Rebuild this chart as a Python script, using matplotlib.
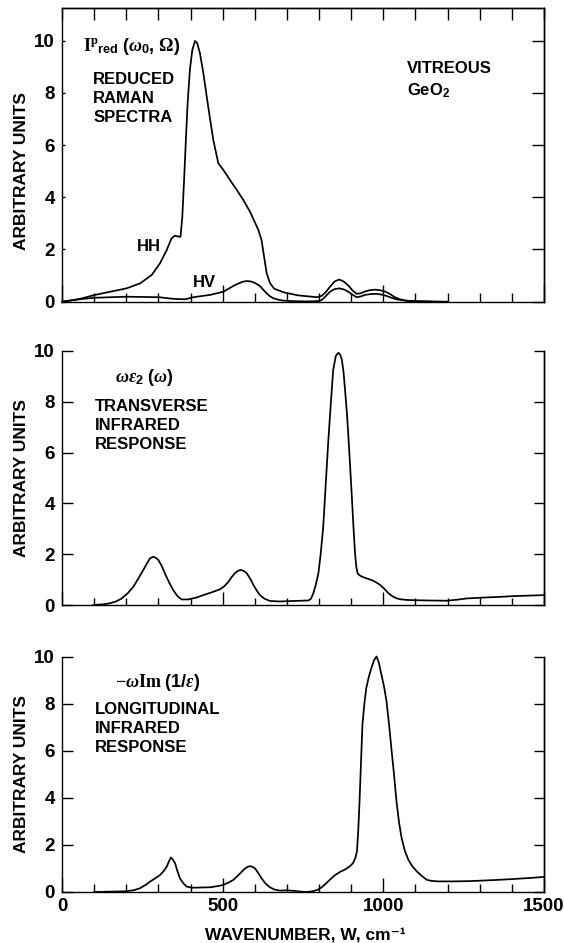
import matplotlib
matplotlib.use("Agg")
import matplotlib.pyplot as plt
from matplotlib.ticker import MultipleLocator, FixedLocator

plt.rcParams['font.family'] = ['Liberation Sans', 'DejaVu Sans']
plt.rcParams['font.weight'] = 'bold'
plt.rcParams['mathtext.fontset'] = 'custom'
plt.rcParams['mathtext.rm'] = 'Liberation Serif:bold'
plt.rcParams['mathtext.it'] = 'Liberation Serif:italic'
plt.rcParams['mathtext.bf'] = 'Liberation Sans:bold'
plt.rcParams['mathtext.sf'] = 'Liberation Sans:bold'

# ---------------- data ----------------
# Top panel: reduced Raman spectra, HH and HV
hh_x = [0, 30, 60, 103, 150, 201, 243, 279, 305, 326, 341, 352, 362, 369, 374.5, 380, 386, 391,
        398, 405.6, 414, 421, 429.5, 440, 455, 471, 486.5, 502, 523, 544, 564, 585, 600, 611,
        621, 629, 637, 647, 660, 689, 735, 770, 793, 808, 820, 834, 848, 863, 877, 891, 905,
        917, 930, 943, 958, 974, 990, 1005, 1020, 1036, 1050, 1062, 1080, 1104, 1150, 1200]
hh_y = [0.0, 0.05, 0.12, 0.26, 0.38, 0.51, 0.70, 1.02, 1.47, 1.98, 2.43, 2.53, 2.49, 2.49, 3.26,
        4.66, 6.32, 7.6, 8.88, 9.64, 9.99, 9.9, 9.51, 8.75, 7.47, 6.19, 5.3, 5.05, 4.66, 4.28,
        3.9, 3.45, 3.05, 2.75, 2.36, 1.72, 1.09, 0.72, 0.5, 0.36, 0.24, 0.2, 0.17, 0.22, 0.35,
        0.57, 0.77, 0.85, 0.77, 0.62, 0.42, 0.3, 0.32, 0.39, 0.44, 0.46, 0.44, 0.39, 0.3, 0.17,
        0.1, 0.06, 0.03, 0.02, 0.01, 0.0]

hv_x = [0, 30, 60, 103, 150, 201, 250, 302, 346, 383, 409, 461, 502, 533, 550, 564, 577, 590,
        603, 616, 627, 637, 648, 658, 675, 689, 720, 760, 793, 808, 820, 834, 848, 863, 877,
        891, 905, 917, 930, 943, 960, 979, 995, 1010, 1025, 1041, 1072, 1100, 1150]
hv_y = [0.0, 0.05, 0.1, 0.15, 0.17, 0.19, 0.18, 0.17, 0.11, 0.09, 0.17, 0.26, 0.38, 0.6, 0.7,
        0.77, 0.79, 0.77, 0.7, 0.6, 0.45, 0.32, 0.2, 0.13, 0.07, 0.04, 0.02, 0.01, 0.02, 0.06,
        0.2, 0.38, 0.48, 0.51, 0.47, 0.38, 0.26, 0.17, 0.2, 0.26, 0.29, 0.3, 0.27, 0.22, 0.15,
        0.09, 0.03, 0.01, 0.0]

# Middle panel: transverse infrared response
tr_x = [97, 130, 149, 168, 186, 205, 222, 238, 253, 265, 274, 284, 292, 300, 310, 320, 333, 346,
        359, 372, 393, 420, 440, 466, 492, 506, 518, 528, 538, 548, 557, 566, 575, 586, 596,
        606, 616, 630, 647, 678, 720, 767, 775, 782, 790, 798, 805, 813, 821, 829, 837, 844,
        852, 860, 866, 871, 876, 881, 887, 892, 897, 902, 907, 912, 916, 920, 926, 933, 948,
        964, 977, 990, 1003, 1016, 1029, 1042, 1057, 1073, 1100, 1135, 1197, 1230, 1260, 1290,
        1322, 1360, 1404, 1450, 1500]
tr_y = [0.0, 0.03, 0.07, 0.14, 0.26, 0.47, 0.72, 1.05, 1.38, 1.65, 1.84, 1.9, 1.86, 1.77, 1.55,
        1.25, 0.9, 0.59, 0.36, 0.22, 0.22, 0.3, 0.39, 0.5, 0.62, 0.75, 0.92, 1.1, 1.25, 1.35,
        1.38, 1.34, 1.25, 1.03, 0.79, 0.57, 0.39, 0.25, 0.16, 0.14, 0.16, 0.18, 0.25, 0.46, 0.8,
        1.25, 2.0, 3.08, 4.8, 6.5, 8.0, 9.25, 9.8, 9.93, 9.85, 9.65, 9.2, 8.46, 7.5, 6.5, 5.4,
        4.27, 3.1, 2.03, 1.5, 1.25, 1.17, 1.12, 1.05, 0.98, 0.9, 0.79, 0.64, 0.46, 0.34, 0.26,
        0.22, 0.2, 0.19, 0.18, 0.17, 0.21, 0.26, 0.28, 0.3, 0.32, 0.35, 0.37, 0.39]

# Bottom panel: longitudinal infrared response
lo_x = [100, 201, 225, 243, 260, 274, 290, 305, 316, 326, 333, 339, 345, 352, 359, 367, 377, 388,
        404, 430, 461, 485, 502, 518, 533, 548, 564, 575, 585, 593, 601, 611, 621, 634, 647, 662,
        678, 700, 720, 740, 761, 780, 797, 810, 823, 836, 849, 865, 880, 895, 906, 913, 918, 922,
        926, 930, 935, 941, 947, 955, 963, 971, 979, 986, 994, 1002, 1010, 1018, 1026, 1034,
        1041, 1049, 1057, 1067, 1078, 1090, 1104, 1120, 1135, 1150, 1171, 1218, 1260, 1301,
        1350, 1404, 1450, 1500]
lo_y = [0.0, 0.03, 0.08, 0.16, 0.3, 0.44, 0.58, 0.72, 0.88, 1.08, 1.3, 1.47, 1.38, 1.22, 0.9,
        0.58, 0.38, 0.23, 0.18, 0.19, 0.2, 0.25, 0.3, 0.4, 0.51, 0.7, 0.93, 1.05, 1.1, 1.07, 1.0,
        0.8, 0.58, 0.35, 0.2, 0.1, 0.06, 0.07, 0.05, 0.02, 0.0, 0.03, 0.1, 0.22, 0.38, 0.55,
        0.71, 0.85, 0.95, 1.08, 1.23, 1.45, 1.73, 2.6, 3.85, 5.3, 7.1, 8.0, 8.67, 9.15, 9.52,
        9.85, 10.01, 9.75, 9.24, 8.75, 8.1, 7.1, 5.98, 4.9, 3.85, 2.95, 2.29, 1.75, 1.37, 1.1,
        0.88, 0.68, 0.52, 0.47, 0.45, 0.45, 0.46, 0.48, 0.51, 0.55, 0.59, 0.64]

x_major = [0, 500, 1000, 1500]
y_ticks = [0, 2, 4, 6, 8, 10]

# ---------------- figure ----------------
fig = plt.figure(figsize=(5.64, 9.43), dpi=100)
L, W = 0.1099, 0.8546
ax1 = fig.add_axes([L, 0.6801, W, 0.3111])
ax2 = fig.add_axes([L, 0.3584, W, 0.2694])
ax3 = fig.add_axes([L, 0.0541, W, 0.2495])

LW = 1.25
ax1.plot(hh_x, hh_y, color='black', lw=LW, clip_on=False)
ax1.plot(hv_x, hv_y, color='black', lw=LW, clip_on=False)
ax2.plot(tr_x, tr_y, color='black', lw=LW, clip_on=False)
ax3.plot(lo_x, lo_y, color='black', lw=LW, clip_on=False)

specs = [
    # ax, ytop, xmaj_len, xmin_len, left_len, right_len, show_top
    (ax1, 11.24, 12.0, 6.5, 2.5, 8.6, True),
    (ax2, 10.0, 9.4, 5.0, 7.7, 7.2, False),
    (ax3, 10.0, 10.0, 5.8, 8.0, 7.2, False),
]
for ax, ytop, xmaj, xmin, llen, rlen, show_top in specs:
    ax.set_xlim(0, 1500)
    ax.set_ylim(0, ytop)
    for s in ax.spines.values():
        s.set_linewidth(1.0)
    ax.spines['top'].set_visible(show_top)
    ax.xaxis.set_major_locator(FixedLocator(x_major))
    ax.xaxis.set_minor_locator(MultipleLocator(100))
    ax.set_yticks(y_ticks)
    ax.tick_params(axis='x', which='major', direction='in', length=xmaj, width=1.0,
                   top=False, labelbottom=False, labelsize=13.5, pad=4)
    ax.tick_params(axis='x', which='minor', direction='in', length=xmin, width=1.0, top=False)
    ax.tick_params(axis='y', which='major', direction='in', length=llen, width=1.0,
                   right=False, labelsize=13.5, pad=5)
    sec = ax.secondary_yaxis('right')
    sec.set_yticks(y_ticks)
    sec.tick_params(direction='in', length=rlen, width=1.0, labelright=False)
    sec.spines['right'].set_linewidth(1.0)
    if show_top:
        sect = ax.secondary_xaxis('top')
        sect.set_xticks(list(range(0, 1501, 100)))
        sect.tick_params(direction='in', length=8.6, width=1.0, labeltop=False)
        sect.spines['top'].set_linewidth(1.0)
    ax.text(-0.0836, 5, 'ARBITRARY UNITS', transform=ax.get_yaxis_transform(),
            rotation=90, ha='center', va='center', fontsize=12.5, fontweight='bold')

ax3.tick_params(axis='x', which='major', labelbottom=True)
fig.text(0.542, 0.0085, 'WAVENUMBER, W, cm\u207b\u00b9', ha='center', va='center',
         fontsize=12.5, fontweight='bold')

TS = 12
# top panel annotations
ax1.text(66, 9.6, r'$\mathrm{I}^{\mathrm{p}}{}_{\mathbf{red}}\ \mathbf{(}\omega_{\mathbf{0}}\mathbf{,}\ \mathit{\Omega}\mathbf{)}$',
         ha='left', va='baseline', fontsize=13)
for txt, yy in [('REDUCED', 8.53), ('RAMAN', 7.79), ('SPECTRA', 7.05)]:
    ax1.text(97.5, yy, txt, ha='left', va='center', fontsize=TS, fontweight='bold')
ax1.text(233, 2.13, 'HH', ha='left', va='center', fontsize=TS, fontweight='bold')
ax1.text(408, 0.74, 'HV', ha='left', va='center', fontsize=TS, fontweight='bold')
ax1.text(1073, 8.92, 'VITREOUS', ha='left', va='center', fontsize=TS, fontweight='bold')
ax1.text(1073, 8.07, r'GeO$_{\mathbf{2}}$', ha='left', va='center', fontsize=TS, fontweight='bold')

# middle panel annotations
ax2.text(165, 8.96, r'$\omega\epsilon_{\mathbf{2}}\ \mathbf{(}\omega\mathbf{)}$',
         ha='left', va='center', fontsize=13)
for txt, yy in [('TRANSVERSE', 7.81), ('INFRARED', 7.05), ('RESPONSE', 6.30)]:
    ax2.text(102.7, yy, txt, ha='left', va='center', fontsize=TS, fontweight='bold')

# bottom panel annotations
ax3.text(165, 8.9, r'$-\omega\mathrm{Im}\ \mathbf{(1/}\epsilon\mathbf{)}$',
         ha='left', va='center', fontsize=13)
for txt, yy in [('LONGITUDINAL', 7.76), ('INFRARED', 6.96), ('RESPONSE', 6.15)]:
    ax3.text(102.7, yy, txt, ha='left', va='center', fontsize=TS, fontweight='bold')

fig.savefig('out.png', dpi=100)
